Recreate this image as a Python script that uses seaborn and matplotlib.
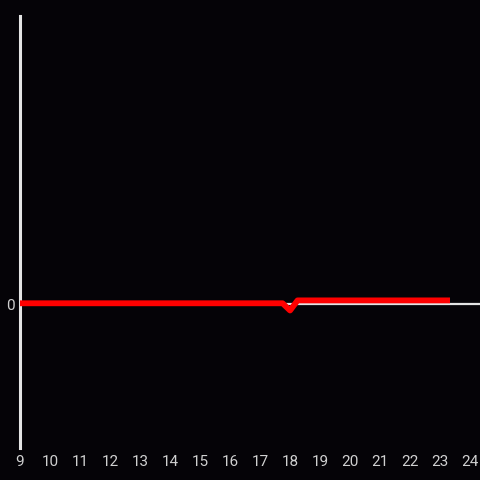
import pandas as pd
import matplotlib.pyplot as plt
import seaborn as sns

# Data (hour of day vs value)
hours = [9, 12, 15, 17.75, 18.0, 18.25, 20, 23.33]
values = [0.5, 0.5, 0.5, 0.5, -4.5, 2.5, 2.5, 2.5]
x_ticks = list(range(9, 25))

df = pd.DataFrame({'hour': hours, 'value': values})

sns.set_style('dark')
plt.rcParams['font.family'] = ['Roboto', 'DejaVu Sans']

fig = plt.figure(figsize=(4.8, 4.8), dpi=100, facecolor='#050307')
ax = fig.add_axes([20 / 480, 32 / 480, 460 / 480, 432 / 480])
ax.set_facecolor('#050307')

# zero line
ax.axhline(0, color='#e4e4e4', linewidth=1.6, zorder=1)

sns.lineplot(x='hour', y='value', data=df, color='#ff0000', linewidth=4.2,
             ax=ax, zorder=3, solid_capstyle='butt')

ax.set_xlim(9, 24.33)
ax.set_ylim(-100, 200)
ax.set_xticks(x_ticks)
ax.set_yticks([0])
ax.grid(False)
ax.set_xlabel('')
ax.set_ylabel('')
ax.tick_params(axis='both', length=0, colors='#d0d0d0', labelsize=11)
ax.tick_params(axis='x', pad=5)
ax.tick_params(axis='y', pad=4)

for side in ['top', 'right', 'bottom']:
    ax.spines[side].set_visible(False)
ax.spines['left'].set_color('#e4e4e4')
ax.spines['left'].set_linewidth(2.2)

fig.savefig('out.png', dpi=100, facecolor=fig.get_facecolor())
